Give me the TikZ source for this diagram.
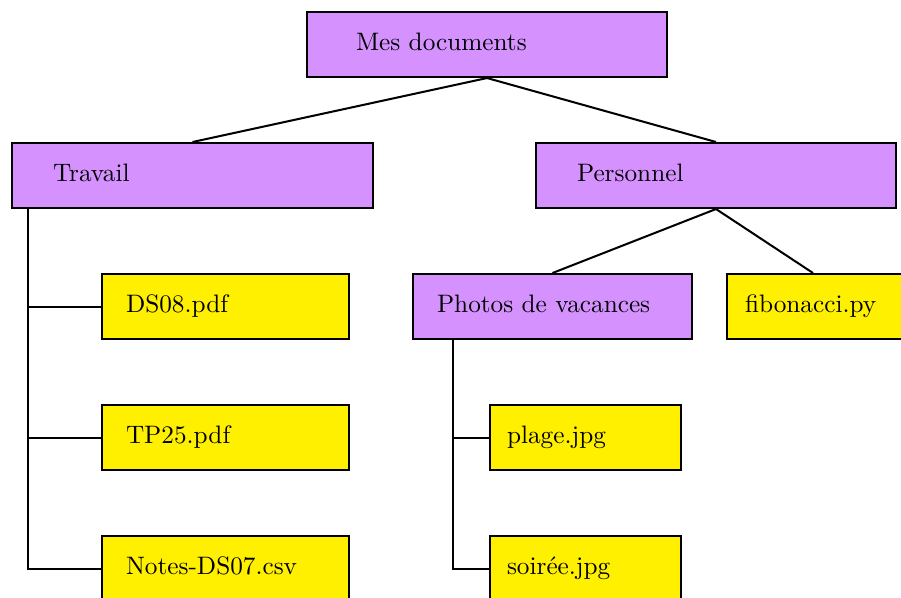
\documentclass[tikz,border=0pt]{standalone}
\usepackage{tikz}
\newcommand\pxu{0.396pt}
\definecolor{dirfill}{RGB}{213,146,255}
\definecolor{filefill}{RGB}{255,240,0}
\tikzset{
  entry/.style={draw, thick, anchor=north west, align=left,
    inner ysep=0pt, minimum height=65*\pxu,
    text height=7.6pt, text depth=2.8pt},
  dirbox/.style={entry, fill=dirfill},
  filebox/.style={entry, fill=filefill},
  % width and left text inset, both in picture units
  wide/.style 2 args={minimum width=#1*\pxu, inner xsep=#2*\pxu,
    text width=(#1-2*#2)*\pxu},
  link/.style={thick}
}
\begin{document}
\begin{tikzpicture}[x=\pxu, y=-\pxu]
\useasboundingbox (0,0) rectangle (901,597);
\clip (0,0) rectangle (901,597);

% folders
\node[dirbox, wide={360}{49}] (root)   at (306,11)  {Mes documents};
\node[dirbox, wide={361}{41}] (travail) at (11,142) {Travail};
\node[dirbox, wide={360}{41}] (perso)  at (535,142) {Personnel};
\node[dirbox, wide={279}{24}] (photos) at (412,273) {Photos de vacances};

% files
\node[filebox, wide={247}{24}] (ds08)  at (101,273) {DS08.pdf};
\node[filebox, wide={247}{24}] (tp25)  at (101,404) {TP25.pdf};
\node[filebox, wide={247}{24}] (notes) at (101,535) {Notes-DS07.csv};
\node[filebox, wide={210}{18}] (fibo)  at (726,273) {fibonacci.py};
\node[filebox, wide={191}{17}] (plage) at (489,404) {plage.jpg};
\node[filebox, wide={191}{17}] (soiree) at (489,535) {soirée.jpg};

% top-level links
\draw[link] (root.south) -- (travail.north);
\draw[link] (root.south) -- (perso.north);
\draw[link] (perso.south) -- (photos.north);
\draw[link] (perso.south) -- ([xshift=87*\pxu]fibo.north west);

% list-style branches
\coordinate (tv) at ([xshift=17*\pxu]travail.south west);
\draw[link] (tv) |- (notes.west);
\draw[link] (ds08.west) -- (ds08.west -| tv);
\draw[link] (tp25.west) -- (tp25.west -| tv);

\coordinate (pv) at ([xshift=41*\pxu]photos.south west);
\draw[link] (pv) |- (soiree.west);
\draw[link] (plage.west) -- (plage.west -| pv);
\end{tikzpicture}
\end{document}
